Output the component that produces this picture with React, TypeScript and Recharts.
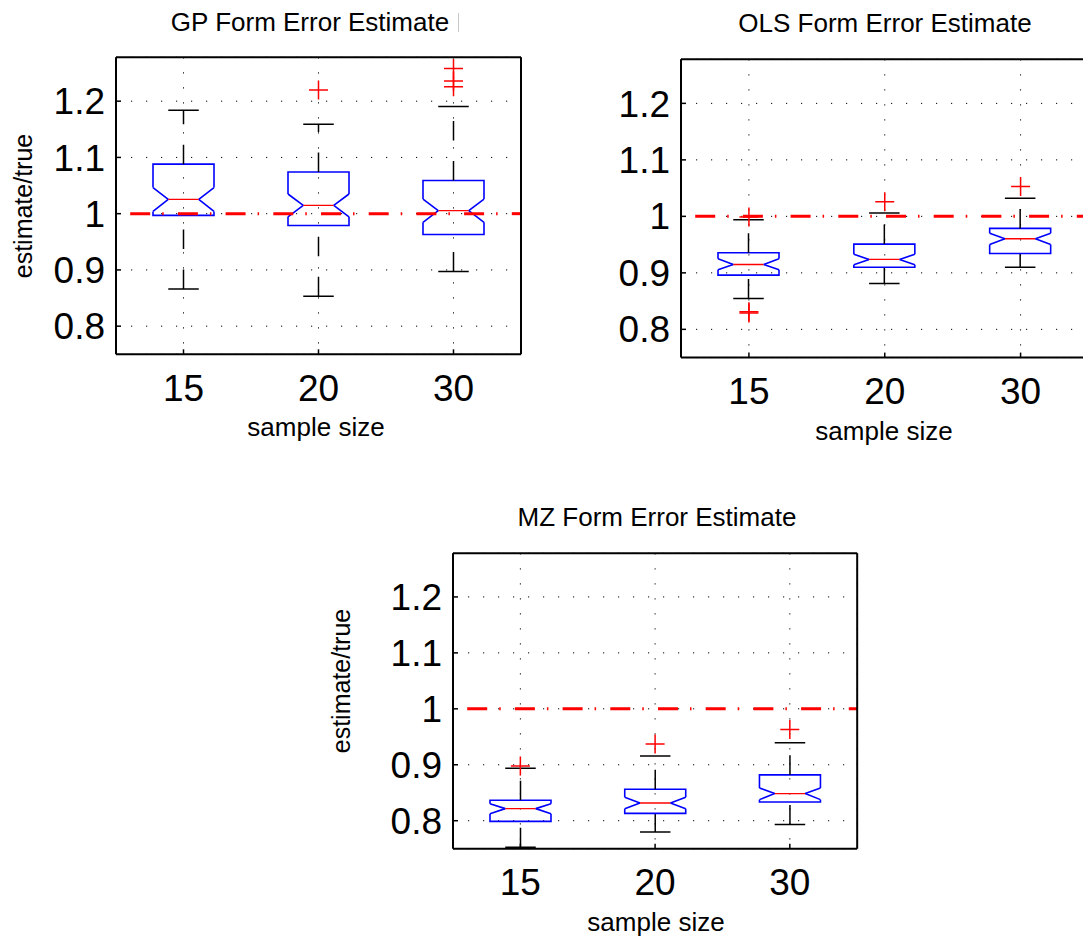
import React from 'react'
import { ComposedChart, Bar, Line, XAxis, YAxis, CartesianGrid, ReferenceLine } from 'recharts'

const categories = ['15', '20', '30']
const yTicks = [0.8, 0.9, 1, 1.1, 1.2]
const yDomain: [number, number] = [0.75, 1.278]

// GP panel
const gpWhiskerLo = [0.866, 0.853, 0.897]
const gpQ1 = [0.997, 0.979, 0.963]
const gpNotchLo = [1.004, 0.9945, 0.9846]
const gpMedian = [1.0255, 1.0148, 1.0053]
const gpNotchHi = [1.0465, 1.035, 1.026]
const gpQ3 = [1.088, 1.074, 1.059]
const gpWhiskerHi = [1.184, 1.159, 1.1906]
const gpOutliers = [[], [1.2197], [1.258, 1.2357, 1.2256]]

// OLS panel
const olsWhiskerLo = [0.8544, 0.881, 0.91]
const olsQ1 = [0.8959, 0.91, 0.9343]
const olsNotchLo = [0.9053, 0.9145, 0.95]
const olsMedian = [0.9148, 0.9237, 0.9604]
const olsNotchHi = [0.9249, 0.933, 0.97]
const olsQ3 = [0.9355, 0.9509, 0.9787]
const olsWhiskerHi = [0.994, 1.006, 1.032]
const olsOutliers = [[0.999, 0.831, 0.829], [1.026], [1.053]]

// MZ panel
const mzWhiskerLo = [0.7527, 0.78, 0.7934]
const mzQ1 = [0.7988, 0.8132, 0.8335]
const mzNotchLo = [0.8126, 0.8215, 0.8377]
const mzMedian = [0.8216, 0.8317, 0.8485]
const mzNotchHi = [0.8305, 0.842, 0.8587]
const mzQ3 = [0.8365, 0.8563, 0.882]
const mzWhiskerHi = [0.894, 0.9156, 0.9395]
const mzOutliers = [[0.898], [0.937], [0.963]]

const FONT = '"Liberation Sans", Arial, Helvetica, sans-serif'
const BLUE = '#0000ff'
const RED = '#ff0000'
const WHISKER_DASH = '19.5 20.5'
const TICK_FONT = 37

interface Stats {
  whiskerLo: number[]
  q1: number[]
  notchLo: number[]
  median: number[]
  notchHi: number[]
  q3: number[]
  whiskerHi: number[]
  outliers: number[][]
}

// stacked segments, bottom to top
function buildRows(s: Stats) {
  return categories.map((cat, i) => ({
    cat,
    base: s.whiskerLo[i],
    lowWhisker: s.q1[i] - s.whiskerLo[i],
    boxLow: s.notchLo[i] - s.q1[i],
    notchLow: s.median[i] - s.notchLo[i],
    notchHigh: s.notchHi[i] - s.median[i],
    boxHigh: s.q3[i] - s.notchHi[i],
    highWhisker: s.whiskerHi[i] - s.q3[i],
    o1: s.outliers[i][0] ?? null,
    o2: s.outliers[i][1] ?? null,
    o3: s.outliers[i][2] ?? null,
  }))
}

const noShape = () => <g />

function LowWhisker(p: any) {
  const { x, y, width, height } = p
  const cx = x + width / 2
  const cap = width / 4
  return (
    <g stroke="#000" strokeWidth={1.5}>
      <line x1={cx} y1={y + height} x2={cx} y2={y} strokeDasharray={WHISKER_DASH} />
      <line x1={cx - cap} y1={y + height} x2={cx + cap} y2={y + height} />
    </g>
  )
}

function HighWhisker(p: any) {
  const { x, y, width, height } = p
  const cx = x + width / 2
  const cap = width / 4
  return (
    <g stroke="#000" strokeWidth={1.5}>
      <line x1={cx} y1={y + height} x2={cx} y2={y} strokeDasharray={WHISKER_DASH} />
      <line x1={cx - cap} y1={y} x2={cx + cap} y2={y} />
    </g>
  )
}

function BoxLow(p: any) {
  const { x, y, width: w, height: h } = p
  return <path d={`M${x},${y} L${x},${y + h} L${x + w},${y + h} L${x + w},${y}`} fill="none" stroke={BLUE} strokeWidth={1.6} />
}

function BoxHigh(p: any) {
  const { x, y, width: w, height: h } = p
  return <path d={`M${x},${y + h} L${x},${y} L${x + w},${y} L${x + w},${y + h}`} fill="none" stroke={BLUE} strokeWidth={1.6} />
}

function NotchLow(p: any) {
  const { x, y, width: w, height: h } = p
  const inset = w / 4
  return (
    <g fill="none">
      <path d={`M${x},${y + h} L${x + inset},${y} M${x + w},${y + h} L${x + w - inset},${y}`} stroke={BLUE} strokeWidth={1.6} />
      <line x1={x + inset} y1={y} x2={x + w - inset} y2={y} stroke={RED} strokeWidth={1.3} />
    </g>
  )
}

function NotchHigh(p: any) {
  const { x, y, width: w, height: h } = p
  const inset = w / 4
  return <path d={`M${x + inset},${y + h} L${x},${y} M${x + w - inset},${y + h} L${x + w},${y}`} fill="none" stroke={BLUE} strokeWidth={1.6} />
}

function PlusDot(p: any) {
  const { cx, cy } = p
  if (cx == null || cy == null || Number.isNaN(cy)) return <g key={p.key} />
  const r = 9.5
  return (
    <g key={p.key} stroke={RED} strokeWidth={1.5}>
      <line x1={cx - r} y1={cy} x2={cx + r} y2={cy} />
      <line x1={cx} y1={cy - r} x2={cx} y2={cy + r} />
    </g>
  )
}

interface PanelProps {
  stats: Stats
  plot: { x: number; y: number; w: number; h: number }
}

// plot area is placed at 116/57.3 inside the chart svg
function BoxPanel({ stats, plot }: PanelProps) {
  const rows = buildRows(stats)
  const width = 116 + plot.w + 16
  const height = 57.3 + plot.h + 55
  const axisLine = { stroke: '#000', strokeWidth: 2 }
  const tickLine = { stroke: '#000', strokeWidth: 1.5 }
  return (
    <div style={{ position: 'absolute', left: plot.x - 116, top: plot.y - 57.3 }}>
      <ComposedChart width={width} height={height} data={rows} margin={{ top: 51.3, right: 10, bottom: 5, left: 46 }}>
        <CartesianGrid stroke="#000" strokeDasharray="1.2 13.8" strokeWidth={1} />
        <XAxis
          dataKey="cat"
          height={50}
          tickSize={-5}
          tickMargin={25}
          axisLine={axisLine}
          tickLine={tickLine}
          tick={{ fill: '#000', fontSize: TICK_FONT, fontFamily: FONT }}
          interval={0}
        />
        <XAxis xAxisId="top" dataKey="cat" orientation="top" height={6} tickSize={-5} tick={false} axisLine={axisLine} tickLine={tickLine} />
        <YAxis
          type="number"
          domain={yDomain}
          ticks={yTicks}
          allowDataOverflow
          width={70}
          tickSize={-5}
          tickMargin={16}
          axisLine={axisLine}
          tickLine={tickLine}
          tickFormatter={(v: number) => String(v)}
          tick={{ fill: '#000', fontSize: TICK_FONT, fontFamily: FONT }}
        />
        <YAxis
          yAxisId="right"
          orientation="right"
          type="number"
          domain={yDomain}
          ticks={yTicks}
          allowDataOverflow
          width={6}
          tickSize={-5}
          tick={false}
          axisLine={axisLine}
          tickLine={tickLine}
        />
        <Bar dataKey="base" stackId="box" barSize={61} shape={noShape} isAnimationActive={false} />
        <Bar dataKey="lowWhisker" stackId="box" barSize={61} shape={LowWhisker} isAnimationActive={false} />
        <Bar dataKey="boxLow" stackId="box" barSize={61} shape={BoxLow} isAnimationActive={false} />
        <Bar dataKey="notchLow" stackId="box" barSize={61} shape={NotchLow} isAnimationActive={false} />
        <Bar dataKey="notchHigh" stackId="box" barSize={61} shape={NotchHigh} isAnimationActive={false} />
        <Bar dataKey="boxHigh" stackId="box" barSize={61} shape={BoxHigh} isAnimationActive={false} />
        <Bar dataKey="highWhisker" stackId="box" barSize={61} shape={HighWhisker} isAnimationActive={false} />
        <ReferenceLine
          y={1}
          stroke={RED}
          strokeWidth={3}
          strokeDasharray="20 12 1.5 14.2"
          strokeDashoffset={33.5}
        />
        <Line dataKey="o1" stroke="none" dot={PlusDot} activeDot={false} isAnimationActive={false} />
        <Line dataKey="o2" stroke="none" dot={PlusDot} activeDot={false} isAnimationActive={false} />
        <Line dataKey="o3" stroke="none" dot={PlusDot} activeDot={false} isAnimationActive={false} />
      </ComposedChart>
    </div>
  )
}

function Caption({ text, cx, baseline, size, rotate }: { text: string; cx: number; baseline: number; size: number; rotate?: boolean }) {
  if (rotate) {
    // cx, baseline act as the centre of the rotated label
    return (
      <div style={{
        position: 'absolute', left: cx, top: baseline, fontSize: size, lineHeight: `${size}px`,
        whiteSpace: 'nowrap', transform: 'translate(-50%, -50%) rotate(-90deg)', color: '#000',
      }}>{text}</div>
    )
  }
  return (
    <div style={{
      position: 'absolute', left: cx, top: baseline - 0.8465 * size, fontSize: size, lineHeight: `${size}px`,
      whiteSpace: 'nowrap', transform: 'translateX(-50%)', color: '#000',
    }}>{text}</div>
  )
}

const gpStats: Stats = { whiskerLo: gpWhiskerLo, q1: gpQ1, notchLo: gpNotchLo, median: gpMedian, notchHi: gpNotchHi, q3: gpQ3, whiskerHi: gpWhiskerHi, outliers: gpOutliers }
const olsStats: Stats = { whiskerLo: olsWhiskerLo, q1: olsQ1, notchLo: olsNotchLo, median: olsMedian, notchHi: olsNotchHi, q3: olsQ3, whiskerHi: olsWhiskerHi, outliers: olsOutliers }
const mzStats: Stats = { whiskerLo: mzWhiskerLo, q1: mzQ1, notchLo: mzNotchLo, median: mzMedian, notchHi: mzNotchHi, q3: mzQ3, whiskerHi: mzWhiskerHi, outliers: mzOutliers }

export default function App() {
  return (
    <div style={{
      position: 'absolute', left: 0, top: 0, width: 1083, height: 938, overflow: 'hidden',
      background: '#fff', fontFamily: FONT,
    }}>
      <BoxPanel stats={gpStats} plot={{ x: 116, y: 57.3, w: 405, h: 297 }} />
      <BoxPanel stats={olsStats} plot={{ x: 680.5, y: 59.7, w: 407.5, h: 298.3 }} />
      <BoxPanel stats={mzStats} plot={{ x: 453.3, y: 553.3, w: 404.2, h: 295.4 }} />

      <Caption text="GP Form Error Estimate" cx={310} baseline={31} size={26} />
      <div style={{ position: 'absolute', left: 458, top: 13, width: 1, height: 19, background: '#c8c8c8' }} />
      <Caption text="OLS Form Error Estimate" cx={885} baseline={32} size={26} />
      <Caption text="MZ Form Error Estimate" cx={657} baseline={526} size={26} />

      <Caption text="sample size" cx={316} baseline={436} size={26} />
      <Caption text="sample size" cx={884} baseline={440} size={26} />
      <Caption text="sample size" cx={656} baseline={931} size={26} />

      <Caption text="estimate/true" cx={23} baseline={206} size={25} rotate />
      <Caption text="estimate/true" cx={341} baseline={681} size={25} rotate />
    </div>
  )
}
